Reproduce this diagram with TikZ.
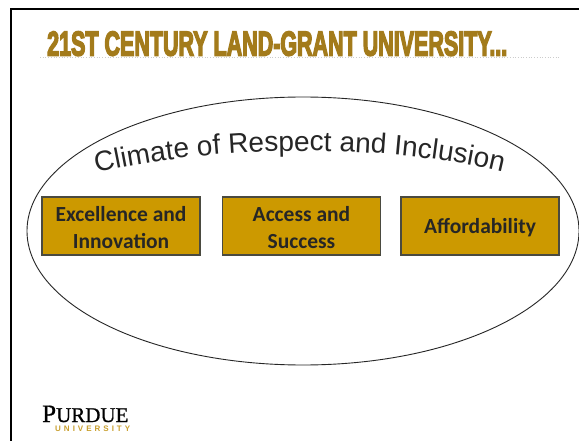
\documentclass[tikz,border=0pt]{standalone}
\usepackage{fontspec}
\usepackage{graphicx}
\setmainfont{Liberation Sans}
\newfontfamily\carl{Carlito}
\newfontfamily\titlef[FakeBold=5]{Liberation Sans}
\newfontfamily\purf[FakeBold=0.8]{Liberation Serif}
\usetikzlibrary{decorations.text}
\definecolor{titlegold}{HTML}{A37B1B}
\definecolor{boxgold}{HTML}{CC9900}
\definecolor{boxline}{HTML}{4A4A40}
\definecolor{unigold}{HTML}{C9A030}
\newcommand{\pillarstrut}{\rule{0pt}{18pt}}
\tikzset{
  pillar/.style={draw=boxline,line width=1.2pt,fill=boxgold,minimum width=158pt,minimum height=58pt,inner sep=0pt,align=center,font=\carl\fontsize{21.5}{27}\selectfont\bfseries,text=black!85},
  frameline/.style={draw=black,line width=2.8pt}
}
\begin{document}
\begin{tikzpicture}[x=1pt,y=-1pt]
\useasboundingbox (0,0) rectangle (579,441);
\fill[white] (0,0) rectangle (579,441);
\coordinate (fbl) at (11,441);
\coordinate (ftl) at (11,9);
\coordinate (ftr) at (579,9);
\draw[frameline] (fbl) -- (ftl) -- (ftr);
\coordinate (ruleL) at (40,57);
\coordinate (ruleR) at (560,57);
\draw[black!20,line width=0.7pt,dotted] (ruleL) -- (ruleR);
\node[anchor=base west,inner sep=0pt,text=titlegold] (title) at (47,55.5) {\resizebox{460pt}{24pt}{\titlef\bfseries 21ST CENTURY LAND-GRANT UNIVERSITY...}};
\begin{scope}
\clip (0,0) rectangle (579,441);
\draw[black!85,line width=0.9pt] (303,231) ellipse [x radius=276,y radius=134];
\end{scope}
\coordinate (arcA) at (92,174);
\coordinate (arcB) at (507,173);
\path[decorate,decoration={text along path,text align=center,text={|\fontsize{28}{28}\selectfont\color{black!85}|Climate of Respect and Inclusion}}]
  (arcA) .. controls (210,145) and (385,142) .. (arcB);
\node[pillar] (exc) at (121,226) {\pillarstrut Excellence and\\Innovation};
\node[pillar] (acc) at (301.5,226) {\pillarstrut Access and\\Success};
\node[pillar] (aff) at (480,226) {\pillarstrut Affordability};
\node[anchor=base west,inner sep=0pt,font=\purf\fontsize{25}{25}\selectfont,text=black] (pur) at (42,422) {P\fontsize{21}{21}\selectfont URDUE};
\node[anchor=base west,inner sep=0pt,text=unigold] (uni) at (55,431) {\fontsize{8}{8}\selectfont\bfseries U\hspace{3pt}N\hspace{3pt}I\hspace{3pt}V\hspace{3pt}E\hspace{3pt}R\hspace{3pt}S\hspace{3pt}I\hspace{3pt}T\hspace{3pt}Y};
\end{tikzpicture}
\end{document}
